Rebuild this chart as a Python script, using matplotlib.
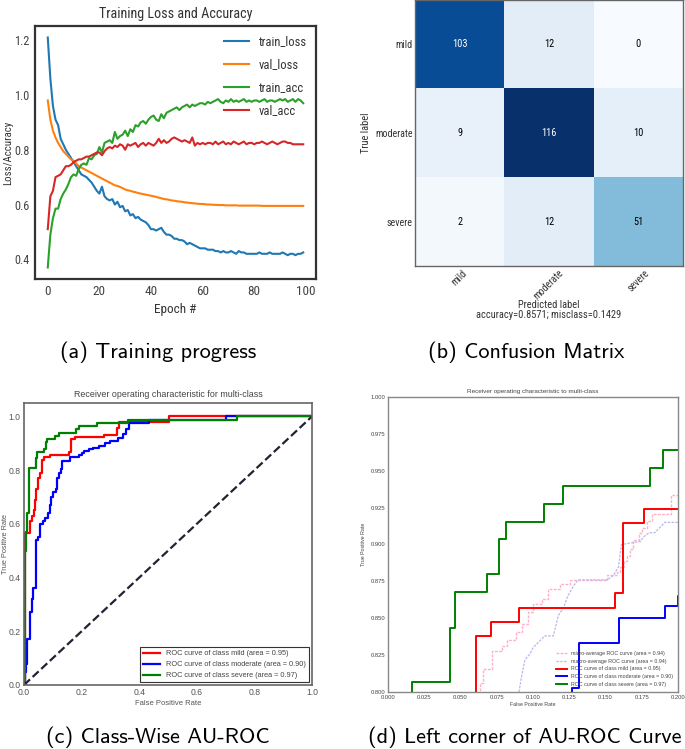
import matplotlib
matplotlib.use("Agg")
import matplotlib.pyplot as plt
import matplotlib.font_manager as fm
import numpy as np

# ---------------- data ----------------
epochs = list(range(100))
train_loss = [1.21, 1.06, 0.96, 0.91, 0.89, 0.84, 0.82, 0.80, 0.785, 0.77,
              0.755, 0.74, 0.725, 0.71, 0.705, 0.70, 0.69, 0.68, 0.665, 0.65,
              0.64, 0.665, 0.63, 0.62, 0.615, 0.62, 0.60, 0.61, 0.59, 0.595,
              0.575, 0.58, 0.56, 0.565, 0.55, 0.555, 0.545, 0.54, 0.535, 0.525,
              0.51, 0.51, 0.505, 0.51, 0.515, 0.50, 0.49, 0.49, 0.485, 0.475,
              0.475, 0.47, 0.47, 0.465, 0.455, 0.46, 0.455, 0.45, 0.445, 0.44,
              0.44, 0.44, 0.435, 0.435, 0.435, 0.43, 0.43, 0.425, 0.43, 0.425,
              0.425, 0.43, 0.425, 0.42, 0.43, 0.425, 0.425, 0.42, 0.42, 0.42,
              0.42, 0.42, 0.425, 0.42, 0.42, 0.42, 0.425, 0.42, 0.42, 0.42,
              0.42, 0.425, 0.42, 0.415, 0.42, 0.42, 0.415, 0.42, 0.42, 0.425]
val_loss = [0.98, 0.91, 0.87, 0.845, 0.825, 0.81, 0.795, 0.785, 0.775, 0.765,
            0.76, 0.75, 0.74, 0.735, 0.73, 0.725, 0.72, 0.715, 0.71, 0.705,
            0.70, 0.695, 0.69, 0.685, 0.68, 0.675, 0.67, 0.668, 0.664, 0.66,
            0.655, 0.652, 0.65, 0.647, 0.645, 0.642, 0.64, 0.638, 0.636, 0.634,
            0.632, 0.63, 0.628, 0.625, 0.623, 0.62, 0.619, 0.617, 0.615, 0.614,
            0.612, 0.611, 0.61, 0.608, 0.607, 0.606, 0.605, 0.604, 0.603, 0.602,
            0.602, 0.601, 0.600, 0.600, 0.599, 0.599, 0.598, 0.598, 0.598, 0.597,
            0.597, 0.597, 0.597, 0.597, 0.596, 0.596, 0.596, 0.596, 0.596, 0.596,
            0.596, 0.596, 0.596, 0.595, 0.595, 0.595, 0.595, 0.595, 0.595, 0.595,
            0.595, 0.595, 0.595, 0.595, 0.595, 0.595, 0.595, 0.595, 0.595, 0.595]
train_acc = [0.37, 0.49, 0.55, 0.585, 0.585, 0.62, 0.64, 0.655, 0.675, 0.70,
             0.71, 0.705, 0.73, 0.745, 0.75, 0.745, 0.77, 0.765, 0.78, 0.785,
             0.81, 0.79, 0.825, 0.83, 0.835, 0.825, 0.865, 0.84, 0.85, 0.855,
             0.87, 0.85, 0.875, 0.865, 0.89, 0.885, 0.90, 0.905, 0.895, 0.91,
             0.92, 0.925, 0.91, 0.905, 0.93, 0.915, 0.935, 0.94, 0.945, 0.95,
             0.955, 0.945, 0.955, 0.96, 0.965, 0.955, 0.965, 0.96, 0.965, 0.97,
             0.97, 0.965, 0.975, 0.97, 0.975, 0.98, 0.985, 0.975, 0.97, 0.98,
             0.975, 0.985, 0.975, 0.98, 0.975, 0.98, 0.985, 0.975, 0.98, 0.975,
             0.98, 0.98, 0.975, 0.98, 0.985, 0.975, 0.98, 0.98, 0.975, 0.98,
             0.985, 0.98, 0.985, 0.975, 0.98, 0.985, 0.975, 0.985, 0.98, 0.97]
val_acc = [0.51, 0.63, 0.65, 0.70, 0.705, 0.71, 0.725, 0.74, 0.74, 0.745,
           0.755, 0.76, 0.765, 0.765, 0.77, 0.775, 0.775, 0.78, 0.785, 0.79,
           0.79, 0.78, 0.795, 0.805, 0.81, 0.805, 0.815, 0.81, 0.82, 0.815,
           0.80, 0.82, 0.815, 0.82, 0.825, 0.81, 0.82, 0.825, 0.815, 0.825,
           0.82, 0.815, 0.825, 0.84, 0.825, 0.835, 0.825, 0.83, 0.84, 0.845,
           0.84, 0.835, 0.83, 0.835, 0.83, 0.825, 0.845, 0.815, 0.825, 0.82,
           0.825, 0.82, 0.825, 0.825, 0.82, 0.83, 0.82, 0.825, 0.83, 0.82,
           0.825, 0.82, 0.83, 0.825, 0.82, 0.825, 0.83, 0.82, 0.825, 0.825,
           0.82, 0.825, 0.825, 0.83, 0.825, 0.82, 0.825, 0.83, 0.825, 0.82,
           0.825, 0.83, 0.83, 0.825, 0.825, 0.82, 0.82, 0.82, 0.82, 0.82]

classes = ["mild", "moderate", "severe"]
conf_matrix = [[103, 12, 0],
               [9, 116, 10],
               [2, 12, 51]]
accuracy = 0.8571
misclass = 0.1429

mild_fpr = [0, 0.005, 0.005, 0.005, 0.022, 0.022, 0.028, 0.028, 0.033, 0.033, 0.037, 0.037,
            0.043, 0.043, 0.049, 0.049, 0.055, 0.055, 0.061, 0.061, 0.071, 0.071, 0.0903, 0.0903,
            0.1567, 0.1567, 0.1618, 0.1618, 0.1763, 0.1763, 0.279, 0.279, 0.322, 0.322, 0.330, 0.330,
            0.505, 0.505, 1.0]
mild_tpr = [0, 0, 0.38, 0.567, 0.567, 0.61, 0.61, 0.63, 0.63, 0.65, 0.65, 0.69,
            0.69, 0.73, 0.73, 0.77, 0.77, 0.79, 0.79, 0.838, 0.838, 0.8476, 0.8476, 0.857,
            0.857, 0.8668, 0.8668, 0.9144, 0.9144, 0.9239, 0.9239, 0.932, 0.932, 0.957, 0.957, 0.979,
            0.979, 1.0, 1.0]
moderate_fpr = [0, 0.004, 0.004, 0.006, 0.006, 0.010, 0.010, 0.020, 0.020, 0.027, 0.027, 0.032, 0.032,
                0.043, 0.043, 0.050, 0.050, 0.057, 0.057, 0.067, 0.067, 0.074, 0.074, 0.084, 0.084,
                0.090, 0.090, 0.095, 0.095, 0.100, 0.100, 0.110, 0.110, 0.115, 0.115, 0.122, 0.122,
                0.127, 0.127, 0.132, 0.132, 0.159, 0.159, 0.191, 0.191, 0.200, 0.200, 0.210, 0.210,
                0.225, 0.225, 0.240, 0.240, 0.260, 0.260, 0.280, 0.280, 0.300, 0.300, 0.325, 0.325,
                0.345, 0.345, 0.355, 0.355, 0.365, 0.365, 0.435, 0.435, 0.700, 0.700, 1.0]
moderate_tpr = [0, 0, 0.05, 0.05, 0.08, 0.08, 0.17, 0.17, 0.27, 0.27, 0.32, 0.32, 0.36,
                0.36, 0.54, 0.54, 0.55, 0.55, 0.60, 0.60, 0.61, 0.61, 0.62, 0.62, 0.64,
                0.64, 0.67, 0.67, 0.70, 0.70, 0.72, 0.72, 0.73, 0.73, 0.77, 0.77, 0.79,
                0.79, 0.803, 0.803, 0.833, 0.833, 0.8505, 0.8505, 0.858, 0.858, 0.865, 0.865, 0.870,
                0.870, 0.877, 0.877, 0.883, 0.883, 0.890, 0.890, 0.900, 0.900, 0.910, 0.910, 0.920,
                0.920, 0.935, 0.935, 0.955, 0.955, 0.975, 0.975, 0.988, 0.988, 1.0, 1.0]
severe_fpr = [0, 0.004, 0.004, 0.006, 0.006, 0.009, 0.009, 0.0168, 0.0168, 0.0426, 0.0426, 0.0465,
              0.0465, 0.0684, 0.0684, 0.0767, 0.0767, 0.0811, 0.0811, 0.1076, 0.1076, 0.1205, 0.1205,
              0.1809, 0.1809, 0.1894, 0.1894, 0.255, 0.255, 0.360, 0.360, 0.740, 0.740, 1.0]
severe_tpr = [0, 0, 0.50, 0.50, 0.57, 0.57, 0.64, 0.64, 0.807, 0.807, 0.8435, 0.8435,
              0.8675, 0.8675, 0.8797, 0.8797, 0.9035, 0.9035, 0.9155, 0.9155, 0.9275, 0.9275, 0.9397,
              0.9397, 0.9518, 0.9518, 0.964, 0.964, 0.976, 0.976, 0.988, 0.988, 1.0, 1.0]
micro_fpr = [0.0635, 0.0635, 0.0657, 0.0657, 0.0714, 0.0714, 0.0788, 0.0788, 0.0818, 0.0818,
             0.088, 0.088, 0.0926, 0.0926, 0.0963, 0.0963, 0.0998, 0.0998, 0.106, 0.106, 0.1106, 0.1106,
             0.1187, 0.1187, 0.1256, 0.1256, 0.151, 0.151, 0.158, 0.158, 0.160, 0.160, 0.1625, 0.1625,
             0.165, 0.165, 0.167, 0.167, 0.169, 0.169, 0.173, 0.173, 0.175, 0.175, 0.1786, 0.1786,
             0.182, 0.182, 0.195, 0.195, 0.200]
micro_tpr = [0.795, 0.806, 0.806, 0.8156, 0.8156, 0.828, 0.828, 0.831, 0.831, 0.835,
             0.835, 0.841, 0.841, 0.846, 0.846, 0.854, 0.854, 0.860, 0.860, 0.863, 0.863, 0.870,
             0.870, 0.873, 0.873, 0.876, 0.876, 0.879, 0.879, 0.8815, 0.8815, 0.885, 0.885, 0.889,
             0.889, 0.892, 0.892, 0.897, 0.897, 0.903, 0.903, 0.908, 0.908, 0.911, 0.911, 0.916,
             0.916, 0.921, 0.921, 0.9336, 0.9336]
macro_fpr = [0.0895, 0.092, 0.0945, 0.098, 0.100, 0.105, 0.108, 0.114, 0.1175, 0.121, 0.124,
             0.128, 0.131, 0.137, 0.151, 0.1555, 0.159, 0.161, 0.174, 0.176, 0.180, 0.184,
             0.188, 0.191, 0.200]
macro_tpr = [0.795, 0.810, 0.822, 0.826, 0.830, 0.835, 0.838, 0.838, 0.852, 0.857, 0.865,
             0.872, 0.876, 0.876, 0.876, 0.879, 0.885, 0.900, 0.902, 0.905, 0.908, 0.908,
             0.912, 0.915, 0.915]
class_auc = [0.95, 0.90, 0.97]
micro_auc = 0.94
macro_auc = 0.94

# ---------------- fonts ----------------
avail = {f.name for f in fm.fontManager.ttflist}
narrow = next((n for n in ["Liberation Sans Narrow", "Roboto Condensed", "Open Sans Condensed",
                           "Noto Sans Condensed", "DejaVu Sans Condensed", "Arial Narrow"]
               if n in avail), None)
if narrow:
    NARROW = [narrow, "Liberation Sans", "DejaVu Sans"]
    k = 1.0
else:
    NARROW = ["Liberation Sans", "DejaVu Sans"]
    k = 0.82
SANS = ["Liberation Sans", "DejaVu Sans"]

# ---------------- figure ----------------
W, H = 685, 749
fig = plt.figure(figsize=(W / 100, H / 100), dpi=100)
fig.patch.set_facecolor("white")


def px_axes(l, t, r, b):
    return fig.add_axes([l / W, 1 - b / H, (r - l) / W, (b - t) / H])


# ---- (a) training progress ----
A_LEFT = 35
ax = px_axes(A_LEFT, 26, 316, 279)
ax.plot(epochs, train_loss, color="#1f77b4", lw=1.5, label="train_loss")
ax.plot(epochs, val_loss, color="#ff7f0e", lw=1.5, label="val_loss")
ax.plot(epochs, train_acc, color="#2ca02c", lw=1.5, label="train_acc")
ax.plot(epochs, val_acc, color="#d62728", lw=1.5, label="val_acc")
ax.set_xticks([0, 20, 40, 60, 80, 100])
ax.set_yticks([0.4, 0.6, 0.8, 1.0, 1.2])
ax.tick_params(axis="x", length=0, labelsize=9.5 * k, colors="#444444", pad=4)
ax.tick_params(axis="y", length=0, labelsize=8.8 * k, colors="#444444", pad=4)
for lab in ax.get_xticklabels() + ax.get_yticklabels():
    lab.set_family(NARROW)
for s in ax.spines.values():
    s.set_color("#333333")
    s.set_linewidth(1.6)
ax.set_title("Training Loss and Accuracy", family=NARROW, fontsize=10.2 * k, color="#333333", pad=6)
ax.set_xlabel("Epoch #", family=NARROW, fontsize=9.5 * k, color="#333333", labelpad=4)
ax.set_ylabel("Loss/Accuracy", family=NARROW, fontsize=7.8 * k, color="#333333")
ax.yaxis.set_label_coords((13 - A_LEFT) / (316 - A_LEFT), 0.5)
leg = ax.legend(loc="upper right", frameon=False, prop={"family": NARROW, "size": 9 * k},
                handlelength=2.0, labelspacing=0.8, borderaxespad=0.35)
for t in leg.get_texts():
    t.set_color("#333333")

# ---- (b) confusion matrix ----
ax = px_axes(415, 0, 683, 266)
cm = np.array(conf_matrix)
ax.imshow(cm, cmap="Blues", interpolation="nearest", aspect="auto", vmin=0, vmax=cm.max())
thresh = cm.max() / 2
for i in range(len(classes)):
    for j in range(len(classes)):
        ax.text(j, i, f"{cm[i][j]}", ha="center", va="center", fontsize=7.5 * k, family=NARROW,
                color="white" if cm[i][j] > thresh else "black")
ax.set_xticks(range(len(classes)))
ax.set_xticklabels(classes, rotation=45, family=NARROW, fontsize=7.2 * k)
ax.set_yticks(range(len(classes)))
ax.set_yticklabels(classes, family=NARROW, fontsize=7.2 * k)
ax.tick_params(length=0, colors="#333333", pad=1.5)
for s in ax.spines.values():
    s.set_color("#666666")
    s.set_linewidth(1.0)
ax.set_ylabel("True label", family=NARROW, fontsize=7.5 * k, color="#333333")
ax.yaxis.set_label_coords((371 - 415) / 268, 0.5)
ax.set_xlabel(f"Predicted label\naccuracy={accuracy:.4f}; misclass={misclass:.4f}",
              family=NARROW, fontsize=7.5 * k, color="#333333", linespacing=0.95)
ax.xaxis.set_label_coords(0.5, (266 - 300) / 266)

# ---- (c) ROC ----
ax = px_axes(24, 403, 312, 685)
ax.plot(mild_fpr, mild_tpr, color="red", lw=1.6,
        label=f"ROC curve of class {classes[0]} (area = {class_auc[0]:.2f})")
ax.plot(moderate_fpr, moderate_tpr, color="blue", lw=1.6,
        label=f"ROC curve of class {classes[1]} (area = {class_auc[1]:.2f})")
ax.plot(severe_fpr, severe_tpr, color="green", lw=1.6,
        label=f"ROC curve of class {classes[2]} (area = {class_auc[2]:.2f})")
ax.plot([0, 1], [0, 1], ls="--", lw=1.6, color="#222233")
ax.set_xlim(0, 1.0)
ax.set_ylim(0, 1.05)
ax.set_xticks([0, 0.2, 0.4, 0.6, 0.8, 1.0])
ax.set_yticks([0, 0.2, 0.4, 0.6, 0.8, 1.0])
ax.tick_params(length=0, labelsize=6.2, colors="#555555", pad=2.5)
for lab in ax.get_xticklabels() + ax.get_yticklabels():
    lab.set_family(SANS)
for s in ax.spines.values():
    s.set_color("#666666")
    s.set_linewidth(1.2)
ax.set_title("Receiver operating characteristic for multi-class", family=SANS, fontsize=6.4,
             color="#444444", pad=4)
ax.set_xlabel("False Positive Rate", family=SANS, fontsize=5.5, color="#555555", labelpad=2)
ax.set_ylabel("True Positive Rate", family=SANS, fontsize=5.3, color="#555555")
ax.yaxis.set_label_coords((8.5 - 24) / 288, 0.5)
leg = ax.legend(loc="lower right", prop={"family": SANS, "size": 5.3}, fancybox=False,
                edgecolor="#333333", framealpha=1, handlelength=2.3, borderaxespad=0.4)
leg.get_frame().set_linewidth(0.8)
for t in leg.get_texts():
    t.set_color("#444444")

# ---- (d) ROC zoom ----
ax = px_axes(388, 397, 678, 692)
ax.plot(micro_fpr, micro_tpr, color="#ffb0c8", lw=1.0, ls=(0, (2, 1)),
        label=f"micro-average ROC curve (area = {micro_auc:.2f})")
ax.plot(macro_fpr, macro_tpr, color="#b8b8ec", lw=0.9, ls=(0, (2, 1)),
        label=f"macro-average ROC curve (area = {macro_auc:.2f})")
ax.plot(mild_fpr, mild_tpr, color="red", lw=1.4,
        label=f"ROC curve of class {classes[0]} (area = {class_auc[0]:.2f})")
ax.plot(moderate_fpr, moderate_tpr, color="blue", lw=1.4,
        label=f"ROC curve of class {classes[1]} (area = {class_auc[1]:.2f})")
ax.plot(severe_fpr, severe_tpr, color="green", lw=1.4,
        label=f"ROC curve of class {classes[2]} (area = {class_auc[2]:.2f})")
ax.set_xlim(0, 0.2)
ax.set_ylim(0.8, 1.0)
ax.set_xticks(np.arange(0, 0.2001, 0.025))
ax.set_yticks(np.arange(0.8, 1.0001, 0.025))
ax.xaxis.set_major_formatter(matplotlib.ticker.FormatStrFormatter("%.3f"))
ax.yaxis.set_major_formatter(matplotlib.ticker.FormatStrFormatter("%.3f"))
ax.tick_params(length=0, labelsize=4.2, colors="#444444", pad=2)
for lab in ax.get_xticklabels() + ax.get_yticklabels():
    lab.set_family(SANS)
for s in ax.spines.values():
    s.set_color("#888888")
    s.set_linewidth(1.0)
ax.set_title("Receiver operating characteristic to multi-class", family=SANS, fontsize=4.6,
             color="#444444", pad=3)
ax.set_xlabel("False Positive Rate", family=SANS, fontsize=3.8, color="#444444", labelpad=1.5)
ax.set_ylabel("True Positive Rate", family=SANS, fontsize=3.8, color="#444444", labelpad=3)
leg = ax.legend(loc="lower right", frameon=False, prop={"family": SANS, "size": 3.8},
                handlelength=2.0, borderaxespad=0.6)
for t in leg.get_texts():
    t.set_color("#444444")

# ---- captions ----
cap = dict(family="cmss10", fontsize=16, ha="center", va="center", color="black")
fig.text(158 / W, 1 - 352 / H, "(a) Training progress", **cap)
fig.text(526 / W, 1 - 352 / H, "(b) Confusion Matrix", **cap)
fig.text(158 / W, 1 - 737 / H, "(c) Class-Wise AU-ROC", **cap)
fig.text(525 / W, 1 - 737 / H, "(d) Left corner of AU-ROC Curve", **cap)

fig.savefig("out.png", dpi=100, facecolor="white")
